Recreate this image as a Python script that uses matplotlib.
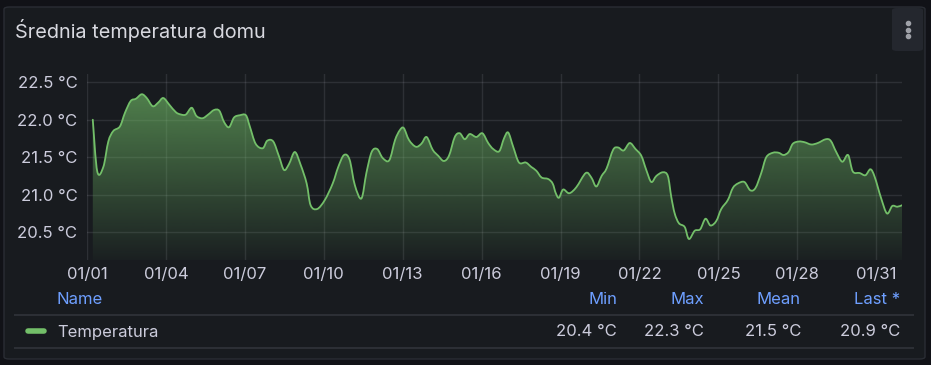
import numpy as np
import pandas as pd
import matplotlib
matplotlib.use("Agg")
from matplotlib import pyplot as plt
import matplotlib.dates as mdates
from matplotlib.patches import FancyBboxPatch, PathPatch
from matplotlib.path import Path
from matplotlib.lines import Line2D

# days since 01/01 00:00 and average temperature (°C)
days = [0.22, 0.39, 0.62, 0.81, 1.00, 1.25, 1.44, 1.66, 1.86, 2.08, 2.27, 2.50, 2.71, 2.90,
        3.13, 3.38, 3.57, 3.76, 3.98, 4.16, 4.39, 4.61, 4.83, 5.03, 5.21, 5.40, 5.59, 5.81,
        6.04, 6.19, 6.41, 6.68, 6.85, 7.08, 7.30, 7.49, 7.68, 7.90, 8.12, 8.35, 8.50, 8.75,
        9.04, 9.34, 9.55, 9.77, 9.98, 10.18, 10.43, 10.62, 10.82, 11.03, 11.24, 11.49, 11.71,
        11.89, 12.04, 12.24, 12.50, 12.71, 12.91, 13.14, 13.35, 13.56, 13.76, 13.98, 14.17,
        14.36, 14.55, 14.80, 15.03, 15.25, 15.44, 15.67, 15.85, 16.01, 16.20, 16.42, 16.68,
        16.89, 17.08, 17.28, 17.53, 17.70, 17.82, 17.94, 18.10, 18.33, 18.60, 18.96, 19.17,
        19.36, 19.56, 19.75, 20.00, 20.19, 20.40, 20.63, 20.85, 21.07, 21.26, 21.45, 21.64,
        21.89, 22.08, 22.21, 22.34, 22.50, 22.72, 22.88, 23.10, 23.31, 23.51, 23.70, 23.92,
        24.11, 24.36, 24.55, 24.74, 24.99, 25.21, 25.41, 25.63, 25.82, 26.07, 26.29, 26.48,
        26.67, 26.83, 27.06, 27.28, 27.53, 27.78, 28.08, 28.27, 28.48, 28.71, 28.93, 29.11,
        29.37, 29.59, 29.78, 29.94, 30.19, 30.41, 30.61, 30.80, 30.98]
temps = [22.00, 21.31, 21.37, 21.71, 21.85, 21.91, 22.09, 22.25, 22.28, 22.34, 22.29, 22.18,
         22.23, 22.29, 22.20, 22.10, 22.07, 22.07, 22.16, 22.05, 22.02, 22.07, 22.13, 22.12,
         21.97, 21.90, 22.03, 22.06, 22.06, 21.91, 21.68, 21.62, 21.72, 21.71, 21.51, 21.33,
         21.41, 21.57, 21.40, 21.15, 20.86, 20.81, 20.93, 21.15, 21.37, 21.53, 21.47, 21.13,
         20.95, 21.29, 21.57, 21.61, 21.49, 21.46, 21.73, 21.86, 21.89, 21.73, 21.64, 21.68,
         21.77, 21.60, 21.52, 21.45, 21.52, 21.77, 21.82, 21.74, 21.81, 21.77, 21.82, 21.69,
         21.61, 21.58, 21.75, 21.83, 21.64, 21.43, 21.43, 21.37, 21.32, 21.23, 21.21, 21.15,
         21.02, 20.96, 21.07, 21.02, 21.10, 21.29, 21.23, 21.11, 21.25, 21.35, 21.60, 21.63,
         21.59, 21.69, 21.61, 21.52, 21.33, 21.17, 21.25, 21.30, 21.25, 20.97, 20.75, 20.62,
         20.57, 20.41, 20.52, 20.54, 20.68, 20.59, 20.65, 20.81, 20.93, 21.09, 21.15, 21.17,
         21.06, 21.09, 21.29, 21.50, 21.56, 21.56, 21.53, 21.57, 21.68, 21.71, 21.70, 21.67,
         21.69, 21.74, 21.72, 21.57, 21.44, 21.53, 21.31, 21.29, 21.26, 21.34, 21.24, 20.95,
         20.75, 20.85, 20.84, 20.86]

title = "Średnia temperatura domu"
series_name = "Temperatura"
stat_names = ["Min", "Max", "Mean", "Last *"]
stat_values = ["20.4 °C", "22.3 °C", "21.5 °C", "20.9 °C"]
y_ticks = [20.5, 21.0, 21.5, 22.0, 22.5]

W, H = 931, 365
BG = "#111217"
PANEL = "#181b1f"
TEXT = "#ccccdc"
GREEN = "#73bf69"
BLUE = "#6e9fff"

plt.rcParams["font.family"] = ["Inter", "DejaVu Sans"]


def fx(x):
    return x / W


def fy(y):
    return 1 - y / H


def smooth_path(x, y):
    # Catmull-Rom style cubic bezier through the data points (like Grafana's smooth line)
    pts = np.column_stack([x, y])
    verts = [pts[0]]
    codes = [Path.MOVETO]
    n = len(pts)
    for i in range(n - 1):
        p0 = pts[max(i - 1, 0)]
        p1 = pts[i]
        p2 = pts[i + 1]
        p3 = pts[min(i + 2, n - 1)]
        c1 = p1 + (p2 - p0) / 6
        c2 = p2 - (p3 - p1) / 6
        verts += [c1, c2, p2]
        codes += [Path.CURVE4] * 3
    return np.array(verts), codes


fig = plt.figure(figsize=(W / 100, H / 100), dpi=100, facecolor=BG)

panel = FancyBboxPatch((fx(4), fy(359)), fx(921), (359 - 7) / H,
                       boxstyle="round,pad=0,rounding_size=0.006",
                       transform=fig.transFigure, fc=PANEL, ec="#2a2d34", lw=1, zorder=-5)
fig.add_artist(panel)

# menu button
btn = FancyBboxPatch((fx(892), fy(51)), fx(31), 43 / H,
                     boxstyle="round,pad=0,rounding_size=0.006",
                     transform=fig.transFigure, fc="#24272e", ec="none", zorder=-4)
fig.add_artist(btn)
for dy in (23, 29.7, 36.3):
    fig.add_artist(Line2D([fx(908)], [fy(dy)], marker="o", ms=3, color="#9fa1a8",
                          transform=fig.transFigure))

fig.text(fx(15), fy(30), title, color="#d8d9e0", fontsize=14.3, va="center", ha="left")

ax = fig.add_axes([fx(87), fy(260), fx(902) - fx(87), (260 - 74) / H])
ax.set_facecolor("none")

start = pd.Timestamp("2024-01-01")
t = start + pd.to_timedelta(days, unit="D")
xn = mdates.date2num(t)
y = np.array(temps)

x0 = mdates.date2num(start)
x1 = x0 + 30.98
ybot, ytop = 20.13, 22.61

verts, codes = smooth_path(xn, y)

# gradient fill under the line
grad = np.zeros((256, 1, 4))
rgb = matplotlib.colors.to_rgb(GREEN)
grad[..., 0], grad[..., 1], grad[..., 2] = rgb
grad[:, 0, 3] = np.linspace(0.68, 0.03, 256)
im = ax.imshow(grad, extent=[x0, x1, ybot, ytop], aspect="auto", origin="upper", zorder=2)
fill_verts = np.vstack([verts, [[xn[-1], ybot], [xn[0], ybot], [xn[0], y[0]]]])
fill_codes = codes + [Path.LINETO, Path.LINETO, Path.CLOSEPOLY]
fill_path = Path(fill_verts, fill_codes)
im.set_clip_path(fill_path, transform=ax.transData)

line = PathPatch(Path(verts, codes), fc="none", ec=GREEN, lw=1.3, zorder=3,
                 joinstyle="round", capstyle="round")
ax.add_patch(line)

ax.set_xlim(x0, x1)
ax.set_ylim(ybot, ytop)
ax.set_yticks(y_ticks)
ax.set_yticklabels([f"{v:.1f} °C" for v in y_ticks])
ax.xaxis.set_major_locator(mdates.DayLocator(bymonthday=range(1, 32, 3)))
ax.xaxis.set_major_formatter(mdates.DateFormatter("%m/%d"))
ax.grid(True, color="#ccccdc", alpha=0.12, lw=1)
ax.set_axisbelow(True)
ax.tick_params(length=0, colors=TEXT, labelsize=12)
ax.tick_params(axis="y", pad=7)
ax.tick_params(axis="x", pad=5)
for s in ax.spines.values():
    s.set_visible(False)

# legend table
cols_x = [617, 704, 801, 900]
fs = 12
fig.text(fx(57), fy(300), "Name", color=BLUE, fontsize=fs, va="center", ha="left")
for cx, name, val in zip(cols_x, stat_names, stat_values):
    fig.text(fx(cx), fy(300), name, color=BLUE, fontsize=fs, va="center", ha="right")
    fig.text(fx(cx), fy(332), val, color=TEXT, fontsize=fs, va="center", ha="right")
fig.text(fx(57), fy(332), series_name, color=TEXT, fontsize=fs, va="center", ha="left")
fig.add_artist(Line2D([fx(28), fx(44)], [fy(331), fy(331)], color=GREEN, lw=4,
                      solid_capstyle="round", transform=fig.transFigure))
for ly in (315, 348):
    fig.add_artist(Line2D([fx(15), fx(913)], [fy(ly), fy(ly)], color="#2c2f35", lw=1.5,
                          transform=fig.transFigure, zorder=-3))

fig.savefig("out.png", dpi=100, facecolor=BG)
